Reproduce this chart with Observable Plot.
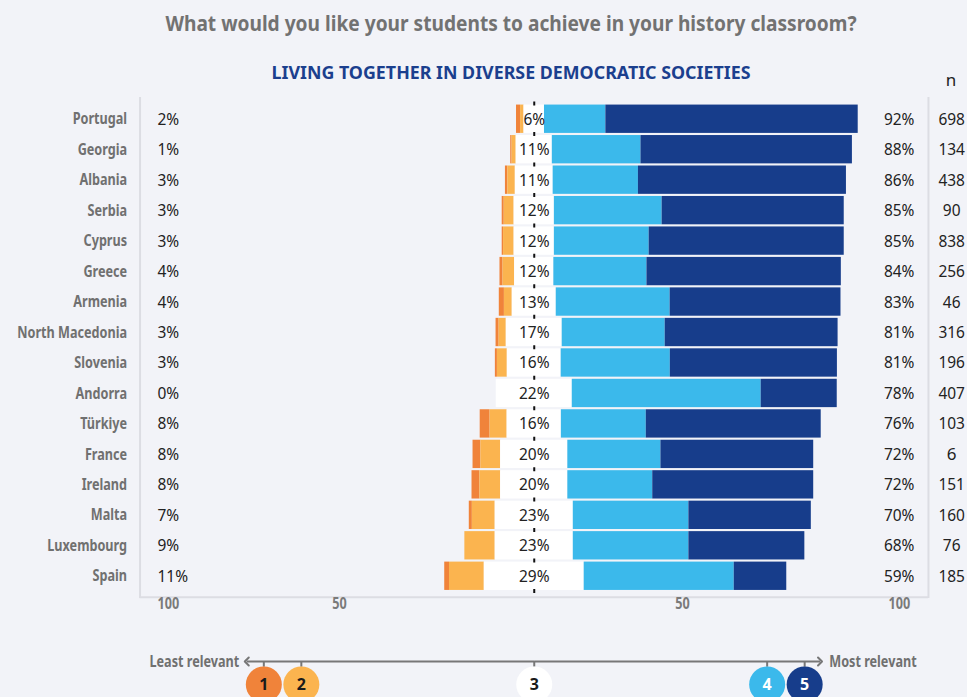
<!DOCTYPE html>
<html>
<head>
<meta charset="utf-8">
<script src="https://cdn.jsdelivr.net/npm/d3@7"></script>
<script src="https://cdn.jsdelivr.net/npm/@observablehq/plot@0.6"></script>
<style>
  html, body { margin: 0; padding: 0; background: #f2f3f8; overflow: hidden; }
  body { width: 967px; height: 697px; font-family: "Noto Sans", "DejaVu Sans Condensed", sans-serif; }
  #header { position: relative; width: 967px; height: 95px; }
  #title { position: absolute; left: 0; width: 1022px; top: 8px; line-height: 28px; text-align: center;
           font-size: 22px; font-weight: bold; color: #727272; transform: scaleX(0.87); transform-origin: 511px 50%; }
  #subtitle { position: absolute; left: 0; width: 1022px; top: 60px; line-height: 24px; text-align: center;
              font-size: 18px; font-weight: bold; color: #1b3f8e; transform: scaleX(0.99); transform-origin: 511px 50%; }
  #nhead { position: absolute; left: 931px; width: 40px; top: 70px; line-height: 20px; text-align: center;
           font-size: 17px; color: #222; }
  svg { display: block; }
</style>
</head>
<body>
<div id="header">
  <div id="title">What would you like your students to achieve in your history classroom?</div>
  <div id="subtitle">LIVING TOGETHER IN DIVERSE DEMOCRATIC SOCIETIES</div>
  <div id="nhead">n</div>
</div>
<div id="chart"></div>
<div id="legend"></div>
<script>
// ---- data (percent of respondents per relevance level 1..5) ----
const countries = ["Portugal","Georgia","Albania","Serbia","Cyprus","Greece","Armenia","North Macedonia","Slovenia","Andorra","Türkiye","France","Ireland","Malta","Luxembourg","Spain"];
const level1 = [1.2,0.4,0.7,0.6,0.4,0.9,1.5,0.9,0.6,0,2.9,2.3,2.3,0.9,0,1.4];
const level2 = [1.0,1.2,2.2,2.9,3.1,3.4,2.3,2.1,2.9,0,5.0,5.8,6.1,6.7,8.9,10.2];
const level3 = [6,10.6,11.1,11.8,11.8,11.5,12.9,16.4,15.8,22.3,15.9,19.7,19.7,22.9,22.9,29.3];
const level4 = [18,26,25,31.6,27.8,27.3,33.4,30.2,32,55.4,24.9,27.3,24.9,33.9,33.9,44];
const level5 = [74,62,61,53.4,57.2,57,50.1,50.7,49,22.3,51.3,44.8,47.2,35.9,34,15.4];
const disagreeLabels = ["2%","1%","3%","3%","3%","4%","4%","3%","3%","0%","8%","8%","8%","7%","9%","11%"];
const neutralLabels = ["6%","11%","11%","12%","12%","12%","13%","17%","16%","22%","16%","20%","20%","23%","23%","29%"];
const agreeLabels = ["92%","88%","86%","85%","85%","84%","83%","81%","81%","78%","76%","72%","72%","70%","68%","59%"];
const sampleSizes = [698,134,438,90,838,256,46,316,196,407,103,6,151,160,76,185];
const axisTickValues = [-107.3,-57.1,43.5,107.1];
const axisTickLabels = ["100","50","50","100"];
const legendLevels = [1,2,3,4,5];
const legendEndLabels = ["Least relevant","Most relevant"];

// ---- layout / style constants ----
const levelColors = ["#f0833a","#fbb44f","#ffffff","#3bb9eb","#173d8b"];
const legendX = [-79.3,-68.3,0,68.3,79.3];
const xDomain = [-156.52, 127.05];
const FONT = "'Noto Sans', 'DejaVu Sans Condensed', sans-serif";

// ---- derived tables ----
const segments = [];
const rows = countries.map((c, i) => ({
  country: c, left: disagreeLabels[i], mid: neutralLabels[i], right: agreeLabels[i], n: sampleSizes[i]
}));
countries.forEach((c, i) => {
  const h = level3[i] / 2;
  segments.push({country: c, level: 1, x1: -h - level2[i] - level1[i], x2: -h - level2[i]});
  segments.push({country: c, level: 2, x1: -h - level2[i], x2: -h});
  segments.push({country: c, level: 3, x1: -h, x2: h});
  segments.push({country: c, level: 4, x1: h, x2: h + level4[i]});
  segments.push({country: c, level: 5, x1: h + level4[i], x2: h + level4[i] + level5[i]});
});

// emulate the condensed typeface of the original by compressing glyphs horizontally
function condense(svg) {
  svg.querySelectorAll("text").forEach(t => {
    const bold = +getComputedStyle(t).fontWeight >= 600;
    const w = t.getComputedTextLength();
    if (w > 0 && t.textContent.length > 1) {
      t.setAttribute("textLength", (w * (bold ? 0.79 : 0.91)).toFixed(2));
      t.setAttribute("lengthAdjust", "spacingAndGlyphs");
    }
  });
}

const chart = Plot.plot({
  width: 967,
  height: 525,
  marginTop: 8.5,
  marginBottom: 29,
  marginLeft: 0,
  marginRight: 0,
  style: {background: "transparent", fontFamily: FONT, overflow: "visible"},
  x: {domain: xDomain, axis: null},
  y: {domain: countries, paddingInner: 0.07, paddingOuter: 0.035, round: false, axis: null},
  color: {type: "ordinal", domain: legendLevels, range: levelColors},
  marks: [
    Plot.ruleX([-115.6, 115.6], {stroke: "#dcdde3", strokeWidth: 2, insetTop: -6.5, insetBottom: -7}),
    Plot.ruleY([countries[countries.length - 1]], {x1: -115.6, x2: 115.6, dy: 21, stroke: "#dcdde3", strokeWidth: 2}),
    Plot.barX(segments, {x1: "x1", x2: "x2", y: "country", fill: "level"}),
    Plot.ruleX([0], {stroke: "#111", strokeWidth: 2, insetTop: -4, insetBottom: -7, strokeDasharray: "4 26.47", strokeDashoffset: -2}),
    Plot.text(rows, {x: -119.4, y: "country", text: "country", textAnchor: "end", fontSize: 16, fontWeight: "bold", fill: "#707070"}),
    Plot.text(rows, {x: -110.5, y: "country", text: "left", textAnchor: "start", fontSize: 17, fill: "#222"}),
    Plot.text(rows, {x: 0, y: "country", text: "mid", textAnchor: "middle", fontSize: 17, fill: "#222"}),
    Plot.text(rows, {x: 111.5, y: "country", text: "right", textAnchor: "end", fontSize: 17, fill: "#222"}),
    Plot.text(rows, {x: 122.4, y: "country", text: "n", textAnchor: "middle", fontSize: 17, fill: "#222"}),
    Plot.text(axisTickValues, {x: d => d, text: (d, i) => axisTickLabels[i], frameAnchor: "bottom", dy: 17, fontSize: 16, fontWeight: "bold", fill: "#7a7a7a"})
  ]
});
document.getElementById("chart").appendChild(chart);
condense(chart);

const legend = Plot.plot({
  width: 967,
  height: 77,
  marginTop: 0, marginBottom: 0, marginLeft: 0, marginRight: 0,
  style: {background: "transparent", fontFamily: FONT, overflow: "hidden"},
  x: {domain: xDomain, axis: null},
  y: {domain: [0, 1], range: [41, 64], axis: null},
  color: {type: "ordinal", domain: legendLevels, range: levelColors},
  marks: [
    Plot.link([-84.3, 83.8], {x1: 0, x2: d => d, y1: 0, y2: 0, stroke: "#777", strokeWidth: 2, markerEnd: "arrow"}),
    Plot.ruleX(legendLevels, {x: (d, i) => legendX[i], y1: 0, y2: 0.25, stroke: "#777", strokeWidth: 2}),
    Plot.dot(legendLevels, {x: (d, i) => legendX[i], y: 1, r: 18, fill: d => d, stroke: "none"}),
    Plot.text(legendLevels, {x: (d, i) => legendX[i], y: 1, text: d => String(d), fontSize: 16, fontWeight: "bold", fill: d => d >= 4 ? "#fff" : "#1a1a1a"}),
    Plot.text([legendEndLabels[0]], {x: -86.5, y: 0, text: d => d, textAnchor: "end", fontSize: 16, fontWeight: "bold", fill: "#707070"}),
    Plot.text([legendEndLabels[1]], {x: 86.5, y: 0, text: d => d, textAnchor: "start", fontSize: 16, fontWeight: "bold", fill: "#707070"})
  ]
});
document.getElementById("legend").appendChild(legend);
condense(legend);
</script>
</body>
</html>
